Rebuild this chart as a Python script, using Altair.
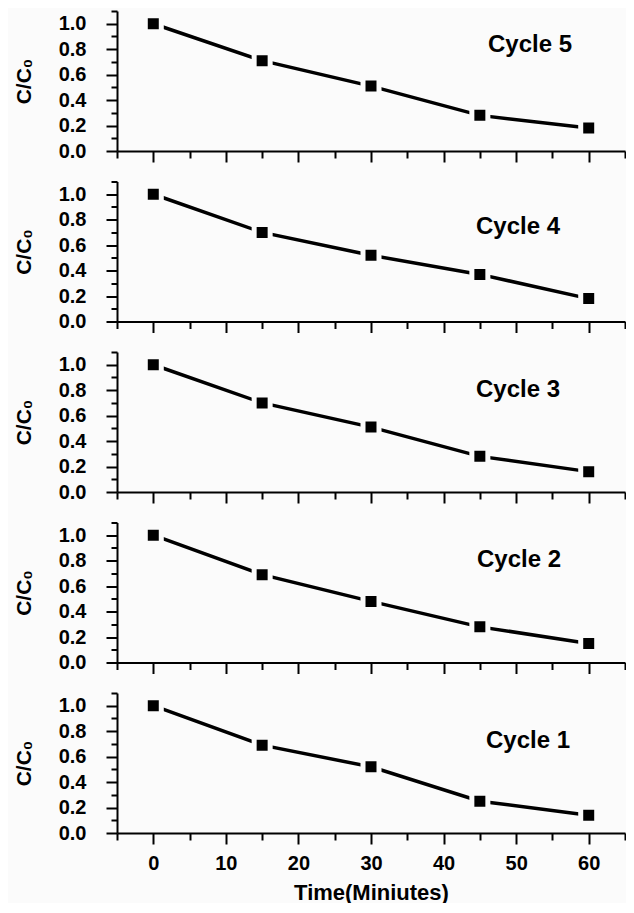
import altair as alt
import pandas as pd

# ---- data ----
time_min = [0, 15, 30, 45, 60]
cycle5 = [1.00, 0.71, 0.51, 0.28, 0.18]
cycle4 = [1.00, 0.70, 0.52, 0.37, 0.18]
cycle3 = [1.00, 0.70, 0.51, 0.28, 0.16]
cycle2 = [1.00, 0.69, 0.48, 0.28, 0.15]
cycle1 = [1.00, 0.69, 0.52, 0.25, 0.14]
cycle_names = ["Cycle 5", "Cycle 4", "Cycle 3", "Cycle 2", "Cycle 1"]
x_ticks = [-5, 0, 5, 10, 15, 20, 25, 30, 35, 40, 45, 50, 55, 60, 65]
y_ticks = [0.0, 0.1, 0.2, 0.3, 0.4, 0.5, 0.6, 0.7, 0.8, 0.9, 1.0, 1.1]

BG = "#fbfbfb"
FONT = "Liberation Sans"
PLOT_W = 508

# label placement inside each panel (pixels in plot area)
label_xy = [(413, 34), (401, 45), (401, 38), (402, 37), (411, 48)]

series = [cycle5, cycle4, cycle3, cycle2, cycle1]

X_MAJOR = "datum.value % 10 == 0"
Y_MAJOR = "round(datum.value * 10) % 2 == 0"


def panel(values, name, lxy, bottom):
    df = pd.DataFrame({"t": time_min, "c": values})
    if bottom:
        x_axis = alt.Axis(
            values=x_ticks,
            labelExpr=X_MAJOR + " ? datum.label : ''",
            labelFontSize={"condition": {"test": X_MAJOR, "value": 20}, "value": 0},
            tickSize={"condition": {"test": X_MAJOR, "value": 11}, "value": 7},
            labelPadding=9,
            labelFlush=False,
            title="Time(Miniutes)",
            titleFontSize=22,
            titlePadding=9,
        )
    else:
        x_axis = alt.Axis(
            values=x_ticks,
            labels=False,
            tickSize={"condition": {"test": X_MAJOR, "value": 11}, "value": 7},
            title=None,
        )
    y_axis = alt.Axis(
        values=y_ticks,
        format=".1f",
        labelExpr=Y_MAJOR + " ? datum.label : ''",
        labelFontSize={"condition": {"test": Y_MAJOR, "value": 20}, "value": 0},
        tickSize={"condition": {"test": Y_MAJOR, "value": 11}, "value": 6},
        labelPadding=20,
        labelFlush=False,
        title="C/C\u2080",
        titleFontSize=21,
        titlePadding=24,
    )
    x = alt.X("t:Q", scale=alt.Scale(domain=[-5, 65], nice=False, zero=False), axis=x_axis)
    y = alt.Y("c:Q", scale=alt.Scale(domain=[0, 1.1], nice=False), axis=y_axis)
    base = alt.Chart(df).encode(x=x, y=y)
    line = base.mark_line(color="black", strokeWidth=3.5)
    pts = base.mark_square(color="black", size=256, stroke=BG, strokeWidth=5, opacity=1)
    lab = alt.Chart(pd.DataFrame({"label": [name]})).mark_text(
        font=FONT, fontSize=24, fontWeight="bold", color="black", align="center", baseline="middle"
    ).encode(text="label:N", x=alt.value(lxy[0]), y=alt.value(lxy[1]))
    return alt.layer(line, pts, lab).properties(width=PLOT_W, height=140)


panels = [panel(v, n, p, i == 4) for i, (v, n, p) in enumerate(zip(series, cycle_names, label_xy))]

chart = alt.vconcat(*panels, spacing=30.5, bounds="flush").properties(
    background=BG,
    padding={"left": 5, "top": -3, "right": 0, "bottom": 0},
).configure_view(stroke=None).configure_axis(
    grid=False,
    domainColor="black",
    domainWidth=2,
    tickColor="black",
    tickWidth=2,
    labelFont=FONT,
    labelFontWeight="bold",
    labelColor="black",
    titleFont=FONT,
    titleFontWeight="bold",
    titleColor="black",
)

chart.save("out.html", embed_options={"renderer": "svg", "actions": False})
